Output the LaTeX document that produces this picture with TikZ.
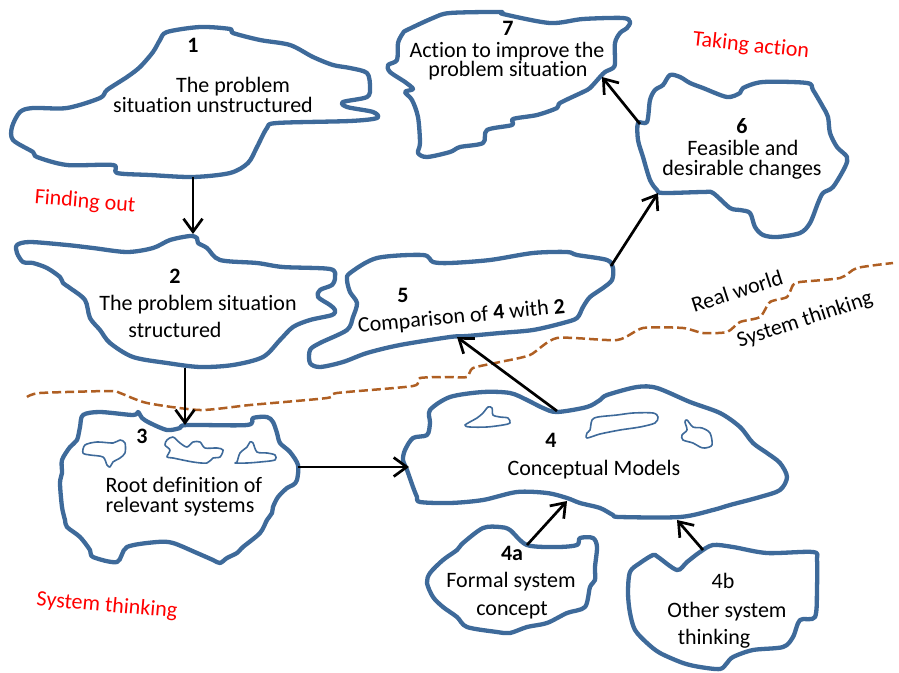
\documentclass[tikz,border=0pt]{standalone}
\usepackage{fontspec}
\setmainfont{Carlito}[Ligatures=NoCommon]
\usetikzlibrary{arrows.meta}
\definecolor{blobblue}{RGB}{62,106,154}
\definecolor{sepbrown}{RGB}{175,95,35}
\definecolor{labred}{RGB}{255,0,0}
\tikzset{
  blob/.style={draw=blobblue, line width=4.3pt, line join=round, fill=white},
  mini/.style={draw=blobblue, line width=1.6pt, line join=round},
  arr/.style={draw=black, line width=2.7pt, -{Straight Barb[length=13pt,width=19pt]}},
  txt/.style={font=\fontsize{22}{26}\selectfont, inner sep=0pt, anchor=base},
  num/.style={font=\fontsize{22}{26}\selectfont\bfseries, inner sep=0pt, anchor=base},
  redlbl/.style={text=labred, font=\fontsize{22}{26}\selectfont, inner sep=0pt},
  blklbl/.style={text=black, font=\fontsize{22}{26}\selectfont, inner sep=0pt},
  sepline/.style={draw=sepbrown, line width=2.5pt, dash pattern=on 9pt off 4pt},
}
\begin{document}
\begin{tikzpicture}[x=1pt,y=-1pt]
\useasboundingbox (0,0) rectangle (899,672);

% separator
\draw[sepline] plot[smooth, tension=0.4] coordinates {(27,397) (40,393) (110,391) (120,393) (147,403) (200,410) (250,405) (327,398) (337,393) (413,386) (420,378) (450,377) (467,377) (473,368) (500,362) (530,355) (557,338) (617,340) (643,328) (683,328) (703,333) (727,332) (740,322) (760,317) (770,302) (787,297) (793,285) (800,282) (840,278) (857,268) (893,263)};

% blob 1
\draw[blob] plot[smooth cycle, tension=0.5] coordinates {(167,32) (200,27) (230,29) (233,33) (260,40) (290,45) (313,57) (333,65) (350,68) (367,73) (370,87) (367,97) (343,102) (347,107) (373,112) (377,118) (350,121) (277,123) (267,128) (257,147) (248,163) (230,173) (193,177) (150,175) (117,173) (113,165) (67,165) (37,157) (33,152) (13,140) (12,127) (20,112) (33,108) (67,108) (100,98) (107,90) (127,77) (140,67) (153,52) (160,40)};

% blob 7
\draw[blob] plot[smooth cycle, tension=0.5] coordinates {(450,13) (500,12) (503,14) (550,23) (583,19) (623,18) (630,22) (627,28) (620,33) (615,43) (615,63) (613,68) (605,72) (600,77) (590,88) (583,92) (560,103) (557,108) (537,115) (513,119) (512,125) (487,130) (483,143) (460,147) (450,152) (427,157) (418,153) (420,143) (418,117) (412,100) (405,92) (413,89) (405,82) (390,72) (388,65) (397,60) (398,43) (403,33) (407,30) (433,18)};

% blob 6
\draw[blob] plot[smooth cycle, tension=0.5] coordinates {(670,75) (680,77) (690,83) (703,88) (727,97) (740,93) (743,88) (763,82) (807,83) (813,90) (823,107) (828,117) (830,133) (837,147) (847,157) (845,167) (833,187) (823,193) (818,203) (810,223) (800,233) (777,237) (763,235) (755,227) (750,213) (740,210) (730,208) (713,193) (703,192) (663,193) (657,190) (650,180) (643,157) (638,140) (638,123) (647,122) (650,100) (655,90) (663,85)};

% blob 2
\draw[blob] plot[smooth cycle, tension=0.5] coordinates {(17,245) (30,242) (67,245) (93,248) (127,252) (153,248) (170,240) (190,236) (197,238) (198,243) (207,248) (220,260) (257,263) (283,267) (330,269) (335,277) (332,285) (320,290) (318,297) (330,305) (335,310) (332,315) (310,320) (293,327) (280,340) (263,357) (233,365) (200,367) (167,363) (133,357) (110,343) (100,330) (90,318) (85,300) (70,288) (63,283) (60,277) (47,268) (33,263) (23,262) (17,253)};

% blob 5
\draw[blob] plot[smooth cycle, tension=0.5] coordinates {(350,273) (377,258) (423,255) (433,262) (450,263) (490,260) (533,253) (567,252) (577,255) (607,260) (613,268) (612,280) (603,288) (590,297) (583,307) (577,318) (563,323) (533,330) (500,333) (467,336) (450,337) (400,345) (367,353) (343,362) (320,367) (310,363) (310,350) (320,343) (347,330) (353,317) (357,303) (350,292) (347,280)};

% blob 3
\draw[blob] plot[smooth cycle, tension=0.5] coordinates {(83,415) (100,412) (133,415) (138,412) (142,418) (150,423) (167,430) (180,428) (187,425) (247,425) (253,418) (267,417) (273,422) (277,433) (280,443) (290,452) (298,465) (297,480) (293,485) (287,488) (278,497) (273,507) (272,513) (267,520) (260,533) (243,547) (237,553) (227,558) (220,563) (213,560) (197,553) (173,543) (157,542) (127,547) (117,562) (93,557) (90,550) (80,537) (67,527) (65,520) (62,507) (60,483) (62,473) (62,460) (70,447) (77,440) (80,427)};
\draw[mini] plot[smooth cycle, tension=0.5] coordinates {(85,445) (97,442) (113,443) (120,440) (125,443) (125,453) (120,458) (113,462) (110,467) (107,465) (103,457) (90,455) (83,453)};
\draw[mini] plot[smooth cycle, tension=0.5] coordinates {(167,440) (173,437) (180,443) (187,447) (193,442) (200,442) (205,448) (217,448) (223,450) (220,457) (213,458) (207,463) (193,462) (173,458) (167,457) (170,450) (165,445)};
\draw[mini] plot[smooth cycle, tension=0.5] coordinates {(237,462) (240,453) (247,447) (250,442) (253,443) (257,452) (267,453) (275,455) (275,460) (260,462) (247,463) (235,463)};

% blob 4
\draw[blob] plot[smooth cycle, tension=0.5] coordinates {(430,410) (450,397) (483,392) (510,393) (527,400) (543,408) (557,412) (587,407) (600,400) (607,395) (637,387) (657,388) (690,402) (720,413) (740,427) (753,443) (767,453) (780,463) (787,477) (780,490) (760,497) (730,505) (713,510) (680,517) (620,517) (613,515) (600,508) (580,503) (567,498) (547,493) (517,492) (483,500) (450,503) (420,502) (417,497) (413,487) (407,470) (403,460) (405,450) (413,438) (427,435) (430,423)};
\draw[mini] plot[smooth cycle, tension=0.5] coordinates {(465,425) (477,418) (483,413) (488,407) (492,408) (493,415) (500,417) (508,418) (510,423) (503,425) (487,427) (470,427)};
\draw[mini] plot[smooth cycle, tension=0.5] coordinates {(590,430) (592,420) (598,417) (617,415) (633,413) (653,413) (658,417) (655,423) (640,427) (620,430) (600,434) (587,438) (587,433)};
\draw[mini] plot[smooth cycle, tension=0.5] coordinates {(687,420) (693,427) (702,428) (710,433) (712,445) (705,448) (700,447) (693,443) (683,440) (682,435) (687,430) (685,422)};

% blob 4a
\draw[blob] plot[smooth cycle, tension=0.5] coordinates {(463,543) (483,528) (500,527) (510,530) (527,545) (557,547) (577,545) (580,538) (593,538) (597,547) (595,567) (595,580) (590,587) (585,607) (567,613) (547,623) (527,627) (510,633) (497,632) (467,627) (457,617) (443,607) (433,597) (427,583) (430,573) (443,560) (457,550)};

% blob 4b
\draw[blob] plot[smooth cycle, tension=0.5] coordinates {(630,572) (640,563) (653,555) (658,557) (677,570) (687,562) (700,552) (713,545) (733,547) (767,553) (813,552) (817,560) (817,587) (815,617) (800,620) (793,637) (783,647) (753,650) (733,657) (727,663) (720,669) (700,667) (683,663) (660,653) (647,643) (635,630) (630,613) (628,593)};

% texts
\node[num] (n1) at (193,52) {1};
\node[txt] (t1a) at (233,92) {The problem};
\node[txt] (t1b) at (213,112) {situation unstructured};

\node[num] (n7) at (508,35) {7};
\node[txt] (t7a) at (507,57) {Action to improve the};
\node[txt] (t7b) at (508,76) {problem situation};

\node[num] (n6) at (742,133) {6};
\node[txt] (t6a) at (743,155) {Feasible and};
\node[txt] (t6b) at (742,175) {desirable changes};

\node[num] (n2) at (175,283) {2};
\node[txt] (t2a) at (198,310) {The problem situation};
\node[txt] (t2b) at (175,337) {structured};

\node[num] (n5) at (403,302) {5};
\node[txt, rotate=5.5] (t5) at (462,323) {Comparison of \textbf{4} with \textbf{2}};

\node[num] (n3) at (142,443) {3};
\node[txt] (t3a) at (184,492) {Root definition of};
\node[txt] (t3b) at (180,512) {relevant systems};

\node[num] (n4) at (551,447) {4};
\node[txt] (t4) at (594,475) {Conceptual Models};

\node[num] (n4a) at (512,560) {4a};
\node[txt] (t4aa) at (511,587) {Formal system};
\node[txt] (t4ab) at (512,615) {concept};

\node[txt] (n4b) at (723,588) {4b};
\node[txt] (t4ba) at (727,617) {Other system};
\node[txt] (t4bb) at (714,644) {thinking};

\node[redlbl, rotate=-4.5] (lfind) at (85,202) {Finding out};
\node[redlbl, rotate=-6] (ltake) at (751,46) {Taking action};
\node[redlbl, rotate=-5] (lsys) at (107,606) {System thinking};
\node[blklbl, rotate=18] (lreal) at (737,291) {Real world};
\node[blklbl, rotate=18] (lsys2) at (805,320) {System thinking};

% connector end points
\coordinate (a1) at (193,177); \coordinate (a2) at (193,234);
\coordinate (b2) at (185,368); \coordinate (b3) at (185,425);
\coordinate (c3) at (298,467); \coordinate (c4) at (409,467);
\coordinate (d4) at (557,411); \coordinate (d5) at (457,337);
\coordinate (e5) at (611,266); \coordinate (e6) at (658,193);
\coordinate (f6) at (640,124); \coordinate (f7) at (602,77);
\coordinate (g4a) at (527,545); \coordinate (g4) at (567,501);
\coordinate (h4b) at (703,550); \coordinate (h4) at (677,520);

\draw[arr] (a1) -- (a2);
\draw[arr] (b2) -- (b3);
\draw[arr] (c3) -- (c4);
\draw[arr] (d4) -- (d5);
\draw[arr] (e5) -- (e6);
\draw[arr] (f6) -- (f7);
\draw[arr] (g4a) -- (g4);
\draw[arr] (h4b) -- (h4);
\end{tikzpicture}
\end{document}
